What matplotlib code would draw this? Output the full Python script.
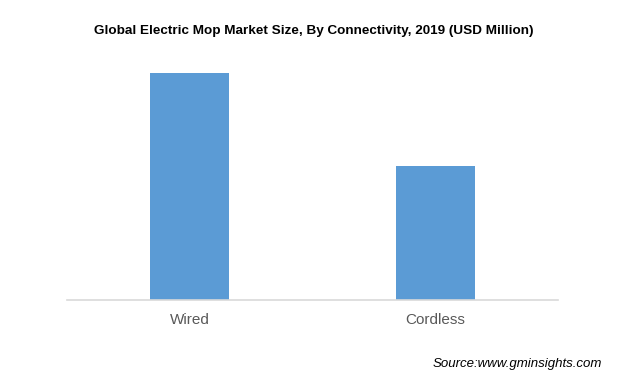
import matplotlib
matplotlib.use("Agg")
import matplotlib.pyplot as plt

plt.rcParams['font.family'] = ['Liberation Sans', 'DejaVu Sans']

categories = ['Wired', 'Cordless']
values = [430, 254]

fig = plt.figure(figsize=(6.17, 3.77), dpi=100)
ax = fig.add_axes([67 / 617, 77 / 377, 491 / 617, 240 / 377])

ax.bar(range(len(categories)), values, width=0.32, color='#5b9bd5')
ax.set_xlim(-0.5, 1.5)
ax.set_ylim(0, 455)
ax.set_xticks(range(len(categories)))
ax.set_xticklabels(categories, fontsize=11, color='#595959')
ax.tick_params(axis='x', length=0, pad=9)
ax.set_yticks([])
for s in ['top', 'right', 'left']:
    ax.spines[s].set_visible(False)
ax.spines['bottom'].set_color('#d9d9d9')
ax.spines['bottom'].set_linewidth(1.2)

fig.text(313.5 / 617, 1 - 31 / 377, 'Global Electric Mop Market Size, By Connectivity, 2019 (USD Million)',
         ha='center', va='center', fontsize=9.7, fontweight='bold', color='black')
fig.text(602 / 617, 1 - 364 / 377, 'Source:www.gminsights.com', ha='right', va='center',
         fontsize=9.5, style='italic', color='black')

fig.savefig('out.png', dpi=100)
